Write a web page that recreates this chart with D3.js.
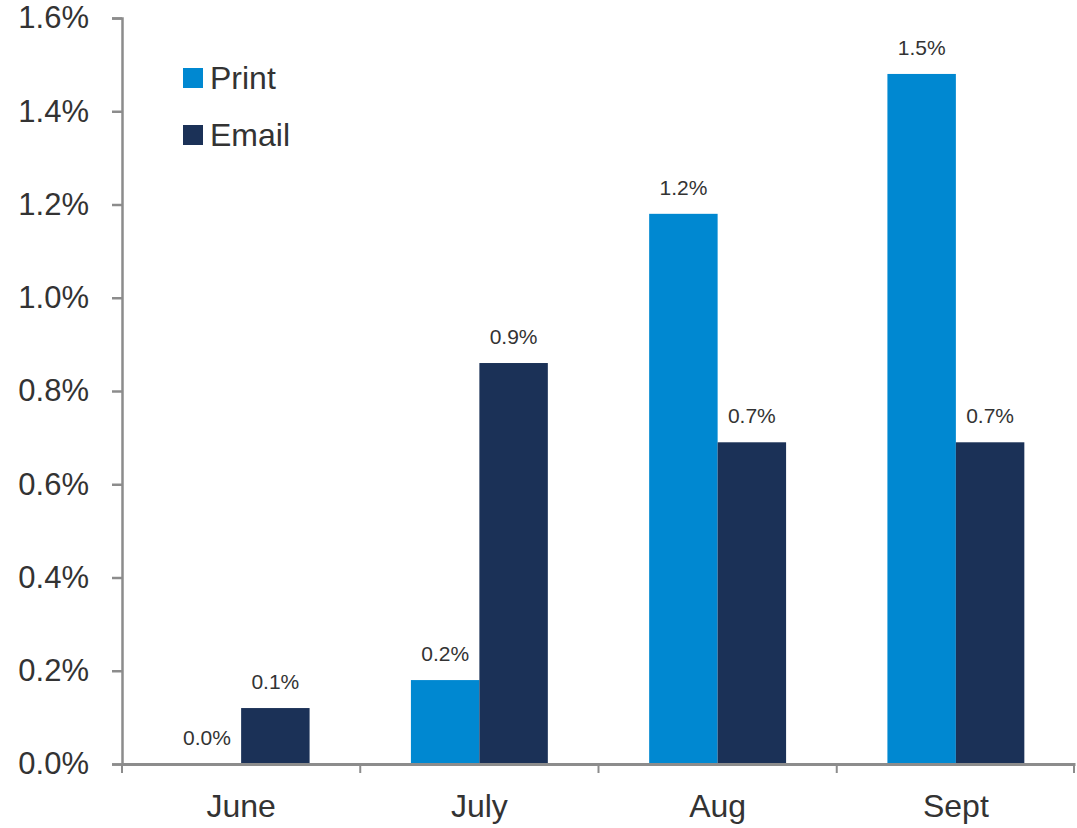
<!DOCTYPE html>
<html>
<head>
<meta charset="utf-8">
<script src="https://cdn.jsdelivr.net/npm/d3@7"></script>
<style>
body { margin: 0; background: #fff; }
text { font-family: "Liberation Sans", Arial, sans-serif; fill: #333; }
</style>
</head>
<body>
<svg width="1077" height="828"></svg>
<script>
let months = ["June", "July", "Aug", "Sept"];
let series = ["Print", "Email"];
let printValues = [0.0000, 0.0018, 0.0118, 0.0148];
let emailValues = [0.0012, 0.0086, 0.0069, 0.0069];
let yTicks = [0, 0.002, 0.004, 0.006, 0.008, 0.010, 0.012, 0.014, 0.016];
let colors = ["#0088d1", "#1b3157"];

let data = months.map((m, i) => ({month: m, values: [printValues[i], emailValues[i]]}));

let svg = d3.select("svg");
let margin = {top: 18, right: 2, bottom: 64, left: 122};
let width = 1077, height = 828;

let x = d3.scaleBand()
	.domain(months)
	.range([margin.left, width - margin.right]);

let x1 = d3.scaleBand()
	.domain(series)
	.range([0, x.bandwidth()])
	.paddingOuter(0.74)
	.paddingInner(0);

let y = d3.scaleLinear()
	.domain([0, 0.016])
	.range([height - margin.bottom, margin.top]);

let fmt = d3.format(".1%");

// bars
let groups = svg.append("g")
	.selectAll("g").data(data).enter().append("g")
	.attr("transform", d => `translate(${x(d.month)},0)`);

groups.selectAll("rect")
	.data(d => d.values.map((v, j) => ({key: series[j], value: v, color: colors[j]})))
	.enter().append("rect")
	.attr("x", d => x1(d.key))
	.attr("y", d => y(d.value))
	.attr("width", x1.bandwidth())
	.attr("height", d => y(0) - y(d.value))
	.attr("fill", d => d.color);

groups.selectAll("text")
	.data(d => d.values.map((v, j) => ({key: series[j], value: v})))
	.enter().append("text")
	.attr("x", d => x1(d.key) + x1.bandwidth() / 2)
	.attr("y", d => y(d.value) - 19)
	.attr("text-anchor", "middle")
	.style("font-size", "21px")
	.text(d => fmt(d.value));

// axes
let yAxis = g => g
	.attr("transform", `translate(${margin.left},0)`)
	.call(d3.axisLeft(y).tickValues(yTicks).tickFormat(fmt).tickSize(10).tickPadding(23))
	.call(g => g.selectAll("path, line").attr("stroke", "#8c8c8c").attr("stroke-width", 2.5))
	.call(g => g.selectAll("text").style("font-size", "31px").style("font-family", "Liberation Sans, Arial, sans-serif").attr("fill", "#333"));

let xAxis = g => g
	.attr("transform", `translate(0,${height - margin.bottom})`)
	.call(d3.axisBottom(x).tickSize(0).tickPadding(30))
	.call(g => g.select(".domain").attr("stroke", "#8c8c8c").attr("stroke-width", 3))
	.call(g => g.selectAll("text").style("font-size", "32px").style("font-family", "Liberation Sans, Arial, sans-serif").attr("fill", "#333"));

svg.append("g").call(yAxis);
svg.append("g").call(xAxis);

// category boundary ticks
svg.append("g")
	.selectAll("line").data(months.concat(["end"])).enter().append("line")
	.attr("x1", (d, i) => i < months.length ? x(d) : x.range()[1] - 1)
	.attr("x2", (d, i) => i < months.length ? x(d) : x.range()[1] - 1)
	.attr("y1", y(0))
	.attr("y2", y(0) + 9)
	.attr("stroke", "#8c8c8c")
	.attr("stroke-width", 2);

// legend
let legend = svg.append("g")
	.selectAll("g").data(series).enter().append("g")
	.attr("transform", (d, i) => `translate(183,${68 + i * 57})`);

legend.append("rect")
	.attr("width", 20).attr("height", 20)
	.attr("fill", (d, i) => colors[i]);

legend.append("text")
	.attr("x", 27).attr("y", 21)
	.style("font-size", "32px")
	.text(d => d);
</script>
</body>
</html>
